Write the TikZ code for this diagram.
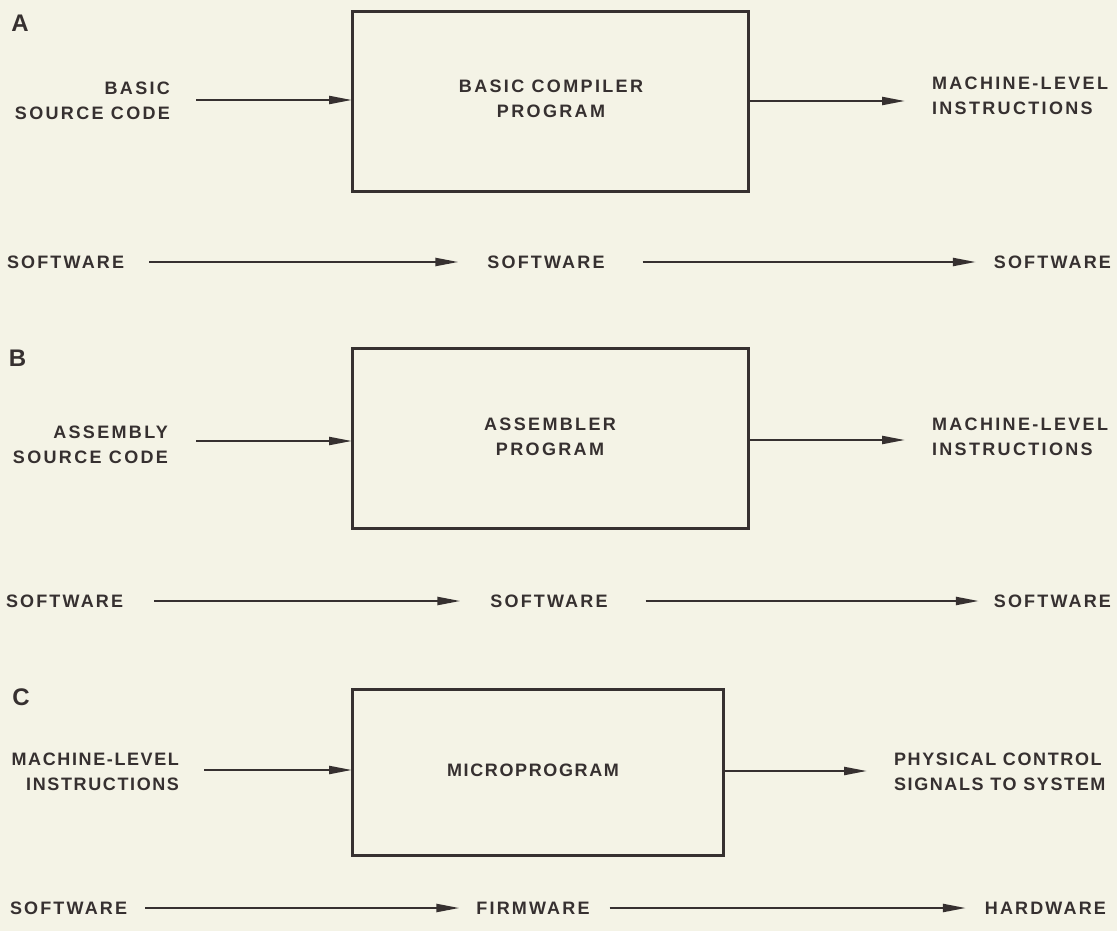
\documentclass[tikz,border=0pt]{standalone}
\usepackage{fontspec}
\setmainfont{Liberation Sans}
\usetikzlibrary{arrows.meta}
\definecolor{bg}{HTML}{F4F3E6}
\definecolor{ink}{HTML}{363030}
\newfontfamily\lblfont[LetterSpace=13]{Liberation Sans Bold}
\newfontfamily\lblcfont[LetterSpace=9]{Liberation Sans Bold}
\newfontfamily\swfont[LetterSpace=12]{Liberation Sans Bold}
\newfontfamily\letfont{Liberation Sans Bold}
\begin{document}
\begin{tikzpicture}[x=1pt,y=-1pt,
  every node/.style={inner sep=0pt, outer sep=0pt, text=ink},
  lbl/.style={font={\fontsize{18}{25}\lblfont}},
  lblc/.style={font={\fontsize{18}{25}\lblcfont}},
  sw/.style={font={\fontsize{18}{25}\swfont}},
  letter/.style={font={\fontsize{24}{28}\letfont}},
  boxstyle/.style={draw=ink, line width=3pt},
  arr/.style={draw=ink, line width=2.2pt, -{Triangle[length=23pt,width=8pt]}}]
\fill[bg] (0,0) rectangle (1117,931);
\useasboundingbox (0,0) rectangle (1117,931);

% ---------------- Panel A ----------------
\node[letter] (la) at (20,23) {A};
\node[boxstyle, minimum width=396pt, minimum height=180pt] (boxA) at (550,102) {};
\node[lbl, align=center] (tA) at (551,99) {BASIC COMPILER\\PROGRAM};
\node[lbl, align=right, anchor=east] (srcA) at (170,100.75) {BASIC\\SOURCE CODE};
\node[lbl, align=left, anchor=west] (dstA) at (932,96) {MACHINE-LEVEL\\INSTRUCTIONS};
\coordinate (inA) at (196,100);
\coordinate (outA) at (905,101);
\draw[arr] (inA) -- (inA -| boxA.west);
\draw[arr] (outA -| boxA.east) -- (outA);
\node[sw, anchor=west] (a1) at (7,262) {SOFTWARE};
\node[sw] (a2) at (546,262) {SOFTWARE};
\node[sw, anchor=east] (a3) at (1111,262) {SOFTWARE};
\draw[arr, shorten <=25pt, shorten >=29pt] (a1) -- (a2);
\draw[arr, shorten <=38pt, shorten >=18pt] (a2) -- (a3);

% ---------------- Panel B ----------------
\node[letter] (lb) at (17.5,358) {B};
\node[boxstyle, minimum width=396pt, minimum height=180pt] (boxB) at (550,438) {};
\node[lbl, align=center] (tB) at (550,437) {ASSEMBLER\\PROGRAM};
\node[lbl, align=right, anchor=east] (srcB) at (168,444.5) {ASSEMBLY\\SOURCE CODE};
\node[lbl, align=left, anchor=west] (dstB) at (932,437) {MACHINE-LEVEL\\INSTRUCTIONS};
\coordinate (inB) at (196,441);
\coordinate (outB) at (905,440);
\draw[arr] (inB) -- (inB -| boxB.west);
\draw[arr] (outB -| boxB.east) -- (outB);
\node[sw, anchor=west] (b1) at (6,601) {SOFTWARE};
\node[sw] (b2) at (549,601) {SOFTWARE};
\node[sw, anchor=east] (b3) at (1111,601) {SOFTWARE};
\draw[arr, shorten <=31pt, shorten >=30pt] (b1) -- (b2);
\draw[arr, shorten <=38pt, shorten >=15pt] (b2) -- (b3);

% ---------------- Panel C ----------------
\node[letter] (lc) at (21,697) {C};
\node[boxstyle, minimum width=371pt, minimum height=166pt] (boxC) at (537.5,772) {};
\node[lblc] (tC) at (533,770) {MICROPROGRAM};
\node[lblc, align=right, anchor=east] (srcC) at (179,771.5) {MACHINE-LEVEL\\INSTRUCTIONS};
\node[lblc, align=left, anchor=west] (dstC) at (894,772) {PHYSICAL CONTROL\\SIGNALS TO SYSTEM};
\coordinate (inC) at (204,770);
\coordinate (outC) at (867,771);
\draw[arr] (inC) -- (inC -| boxC.west);
\draw[arr] (outC -| boxC.east) -- (outC);
\node[sw, anchor=west] (c1) at (10,908) {SOFTWARE};
\node[sw] (c2) at (533,908) {FIRMWARE};
\node[sw, anchor=east] (c3) at (1106,908) {HARDWARE};
\draw[arr, shorten <=18pt, shorten >=17pt] (c1) -- (c2);
\draw[arr, shorten <=20pt, shorten >=19pt] (c2) -- (c3);
\end{tikzpicture}
\end{document}
